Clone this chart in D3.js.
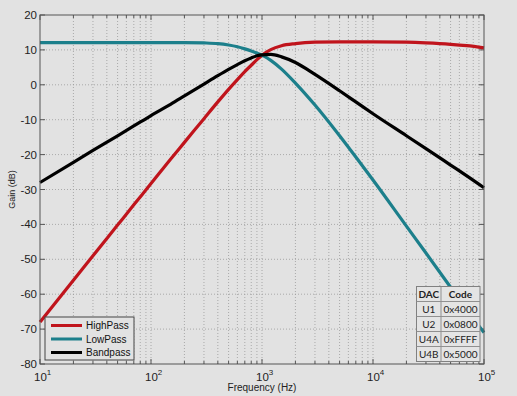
<!DOCTYPE html>
<html>
<head>
<meta charset="utf-8">
<script src="https://cdn.jsdelivr.net/npm/d3@7"></script>
<style>
  body { margin: 0; background: #e2e2e2; }
  svg { display: block; font-family: "Liberation Sans", Arial, sans-serif; }
</style>
</head>
<body>
<svg id="chart"></svg>
<script>
// データ部分
const freqs = [10, 20, 30, 50, 70, 100, 150, 200, 300, 400, 500, 600, 700, 800, 900, 1000, 1200, 1500, 2000, 3000, 5000, 7000, 10000, 20000, 30000, 50000, 70000, 100000];
const highPass = [-68, -56, -49, -40.2, -34.4, -28.3, -21.3, -16.5, -9.7, -4.9, -1.3, 1.5, 3.8, 5.6, 7.2, 8.5, 10.1, 11.2, 11.8, 12.2, 12.3, 12.3, 12.3, 12.2, 12.0, 11.6, 11.2, 10.6];
const lowPass = [12.1, 12.1, 12.1, 12.1, 12.1, 12.1, 12.1, 12.1, 12.0, 11.8, 11.4, 10.9, 10.3, 9.7, 9.1, 8.5, 7.0, 4.5, 0.5, -5.8, -14.6, -20.7, -27.3, -40.5, -48.2, -58, -64.5, -71];
const bandPass = [-28, -22.2, -18.8, -14.6, -11.8, -8.8, -5.6, -3.2, 0.2, 2.6, 4.4, 5.8, 6.9, 7.7, 8.3, 8.6, 8.7, 8.0, 6.4, 3.0, -1.7, -4.9, -8.3, -14.6, -18.3, -23.0, -26.1, -29.5];
const seriesNames = ["HighPass", "LowPass", "Bandpass"];
const seriesColors = ["#c0141c", "#1c7f8b", "#000000"];
const yTicks = [-80, -70, -60, -50, -40, -30, -20, -10, 0, 10, 20];
const xMajor = [10, 100, 1000, 10000, 100000];
const tableHead = ["DAC", "Code"];
const dacNames = ["U1", "U2", "U4A", "U4B"];
const dacCodes = ["0x4000", "0x0800", "0xFFFF", "0x5000"];

const width = 517;
const height = 396;
const mLeft = 40, mRight = 484, mTop = 15, mBottom = 364;

var svg = d3.select("#chart")
              .attr("width", width)
              .attr("height", height);

svg.append("rect")
    .attr("width", width).attr("height", height)
    .attr("fill", "#e2e2e2");

var x = d3.scaleLog().domain([10, 100000]).range([mLeft, mRight]);
var y = d3.scaleLinear().domain([-80, 20]).range([mBottom, mTop]);

// グリッド
var xAll = x.ticks();
svg.append("g").selectAll("line")
    .data(xAll.filter(d => d > 10 && d < 100000))
    .enter().append("line")
    .attr("x1", d => x(d)).attr("x2", d => x(d))
    .attr("y1", mTop).attr("y2", mBottom)
    .attr("stroke", "#9a9a9a")
    .attr("stroke-width", 0.8)
    .attr("stroke-dasharray", "1,2");

svg.append("g").selectAll("line")
    .data(yTicks.filter(d => d > -80 && d < 20))
    .enter().append("line")
    .attr("x1", mLeft).attr("x2", mRight)
    .attr("y1", d => y(d)).attr("y2", d => y(d))
    .attr("stroke", "#9a9a9a")
    .attr("stroke-width", 0.8)
    .attr("stroke-dasharray", "1,2");

// 目盛り（内向き）
var ticks = svg.append("g").attr("stroke", "#555").attr("stroke-width", 1);
xAll.forEach(function(d) {
    var len = xMajor.indexOf(d) >= 0 ? 5 : 3;
    ticks.append("line").attr("x1", x(d)).attr("x2", x(d)).attr("y1", mBottom).attr("y2", mBottom - len);
    ticks.append("line").attr("x1", x(d)).attr("x2", x(d)).attr("y1", mTop).attr("y2", mTop + len);
});
yTicks.forEach(function(d) {
    ticks.append("line").attr("x1", mLeft).attr("x2", mLeft + 5).attr("y1", y(d)).attr("y2", y(d));
    ticks.append("line").attr("x1", mRight).attr("x2", mRight - 5).attr("y1", y(d)).attr("y2", y(d));
});

// 曲線
var line = d3.line()
              .x(d => x(d[0]))
              .y(d => y(d[1]))
              .curve(d3.curveMonotoneX);

[highPass, lowPass, bandPass].forEach(function(vals, i) {
    svg.append("path")
        .datum(freqs.map((f, j) => [f, vals[j]]))
        .attr("d", line)
        .attr("fill", "none")
        .attr("stroke", seriesColors[i])
        .attr("stroke-width", 3.2)
        .attr("stroke-linejoin", "round");
});

// 枠
svg.append("rect")
    .attr("x", mLeft).attr("y", mTop)
    .attr("width", mRight - mLeft).attr("height", mBottom - mTop)
    .attr("fill", "none")
    .attr("stroke", "#555")
    .attr("stroke-width", 1);

// 軸ラベル
svg.append("g").selectAll("text")
    .data(yTicks)
    .enter().append("text")
    .attr("x", mLeft - 3)
    .attr("y", d => y(d) + 4)
    .attr("text-anchor", "end")
    .attr("font-size", 11.5)
    .attr("fill", "#222")
    .text(d => d);

var xl = svg.append("g").selectAll("text")
    .data(xMajor)
    .enter().append("text")
    .attr("x", d => x(d) - 6)
    .attr("y", 381)
    .attr("font-size", 11.5)
    .attr("fill", "#222");
xl.append("tspan").text("10");
xl.append("tspan")
    .attr("dy", -6)
    .attr("font-size", 8)
    .text(d => Math.round(Math.log10(d)));

svg.append("text")
    .attr("x", (mLeft + mRight) / 2)
    .attr("y", 391)
    .attr("text-anchor", "middle")
    .attr("font-size", 10)
    .attr("fill", "#222")
    .text("Frequency (Hz)");

svg.append("text")
    .attr("transform", "translate(15," + ((mTop + mBottom) / 2) + ") rotate(-90)")
    .attr("text-anchor", "middle")
    .attr("font-size", 9)
    .attr("fill", "#222")
    .text("Gain (dB)");

// 凡例
var legend = svg.append("g");
legend.append("rect")
    .attr("x", 45).attr("y", 317)
    .attr("width", 89).attr("height", 43)
    .attr("fill", "#e2e2e2")
    .attr("stroke", "#444");
seriesNames.forEach(function(name, i) {
    var ly = 325.5 + i * 13.5;
    legend.append("line")
        .attr("x1", 51).attr("x2", 82)
        .attr("y1", ly).attr("y2", ly)
        .attr("stroke", seriesColors[i])
        .attr("stroke-width", 3);
    legend.append("text")
        .attr("x", 86).attr("y", ly + 3.5)
        .attr("font-size", 10)
        .attr("fill", "#111")
        .text(name);
});

// DAC 表
var tx = [416.5, 441, 480];
var rowH = 15;
var tTop = 286.5;
var rows = [tableHead].concat(dacNames.map((n, i) => [n, dacCodes[i]]));
var table = svg.append("g").attr("font-family", "Lato, 'Open Sans', sans-serif");
table.append("rect")
    .attr("x", tx[0]).attr("y", tTop)
    .attr("width", tx[2] - tx[0]).attr("height", rowH * rows.length)
    .attr("fill", "#e4e4e4")
    .attr("stroke", "#808080");
rows.forEach(function(r, i) {
    if (i > 0) {
        table.append("line")
            .attr("x1", tx[0]).attr("x2", tx[2])
            .attr("y1", tTop + i * rowH).attr("y2", tTop + i * rowH)
            .attr("stroke", "#909090");
    }
    r.forEach(function(cell, j) {
        table.append("text")
            .attr("x", (tx[j] + tx[j + 1]) / 2)
            .attr("y", tTop + i * rowH + rowH / 2 + 4)
            .attr("text-anchor", "middle")
            .attr("font-size", 10)
            .attr("font-weight", i == 0 ? "bold" : "normal")
            .attr("fill", "#222")
            .text(cell);
    });
});
table.append("line")
    .attr("x1", tx[1]).attr("x2", tx[1])
    .attr("y1", tTop).attr("y2", tTop + rowH * rows.length)
    .attr("stroke", "#909090");
</script>
</body>
</html>
